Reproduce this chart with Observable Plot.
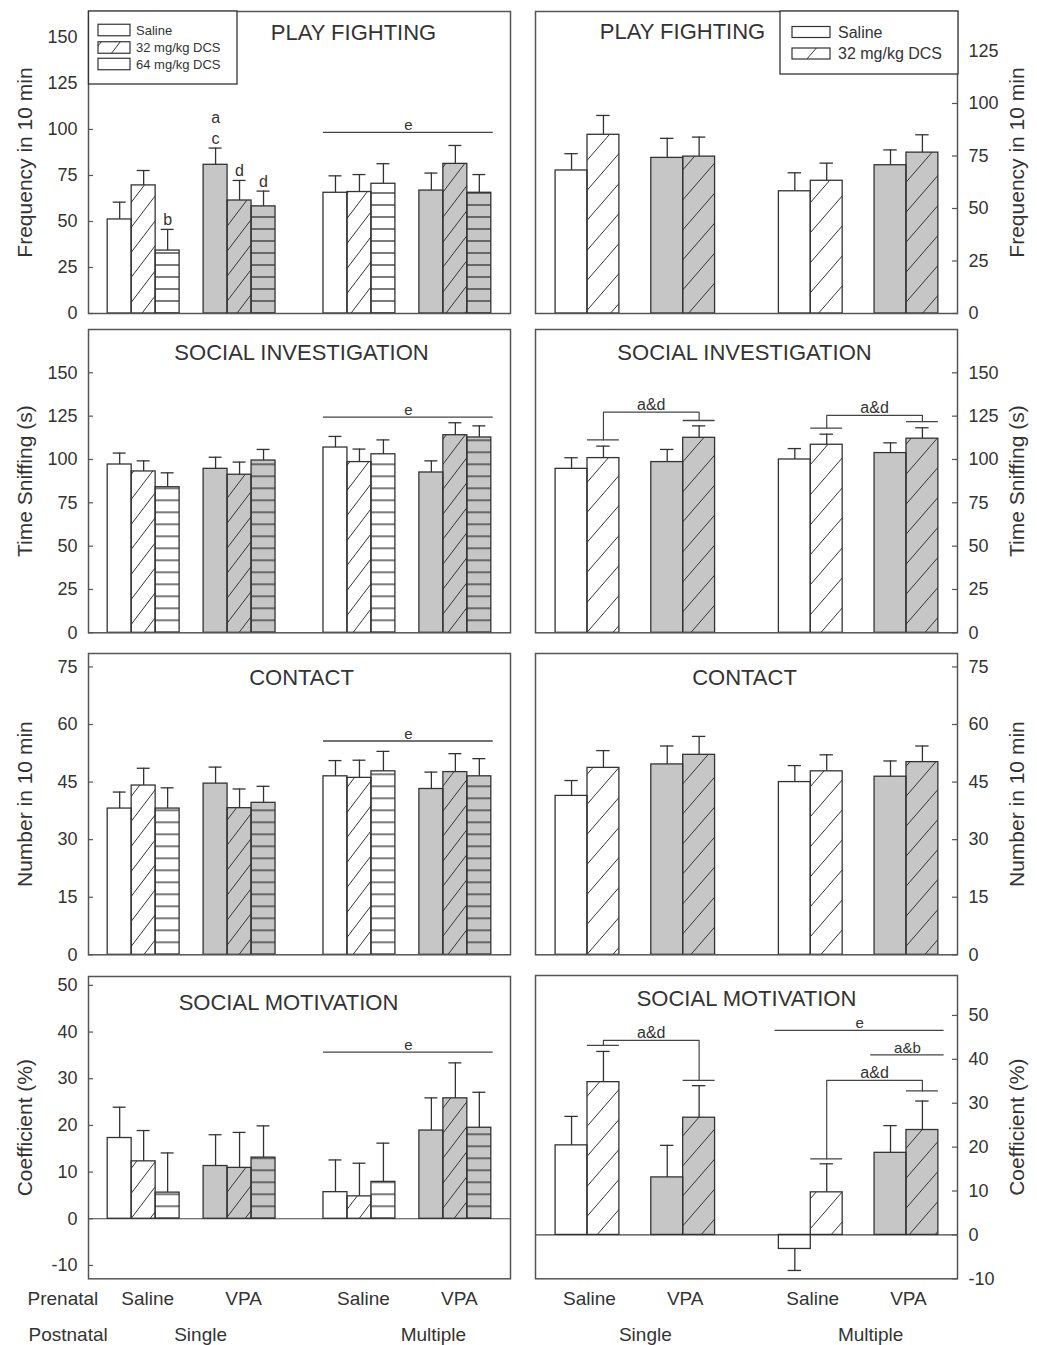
<!DOCTYPE html>
<html><head><meta charset="utf-8">
<script src="https://cdn.jsdelivr.net/npm/d3@7"></script>
<script src="https://cdn.jsdelivr.net/npm/@observablehq/plot@0.6"></script>
<style>
body{margin:0;background:#fff;}
#root{position:relative;width:1037px;height:1345px;overflow:hidden;font-family:"Liberation Sans",Arial,sans-serif;color:#333;}
#root > svg{position:absolute;}
</style></head><body><div id="root"></div>
<script>
// ================= DATA =================
const prenatal = ["Saline", "VPA", "Saline", "VPA"];
const postnatal = ["Single", "Single", "Multiple", "Multiple"];
const rowHeaders = ["Prenatal", "Postnatal"];
const treatmentsLeft = ["Saline", "32 mg/kg DCS", "64 mg/kg DCS"];
const treatmentsRight = ["Saline", "32 mg/kg DCS"];
const titles = ["PLAY FIGHTING", "SOCIAL INVESTIGATION", "CONTACT", "SOCIAL MOTIVATION"];
const yTitles = ["Frequency in 10 min", "Time Sniffing (s)", "Number in 10 min", "Coefficient (%)"];
const ticksLeft = [[0,25,50,75,100,125,150],[0,25,50,75,100,125,150],[0,15,30,45,60,75],[-10,0,10,20,30,40,50]];
const ticksRight = [[0,25,50,75,100,125],[0,25,50,75,100,125,150],[0,15,30,45,60,75],[-10,0,10,20,30,40,50]];

// means [group][treatment] and SEM
const playLeftMean = [[51.1,69.6,34.2],[80.8,61.4,58.2],[65.6,66.0,70.5],[66.8,81.3,65.6]];
const playLeftSem  = [[9.4,8.1,11.5],[9.1,10.9,8.3],[9.2,9.5,10.9],[9.5,10.0,9.9]];
const playRightMean = [[68.1,85.1],[74.1,74.7],[58.2,63.2],[70.6,76.6]];
const playRightSem  = [[8.0,9.2],[9.3,9.3],[8.8,8.4],[7.3,8.5]];

const siLeftMean = [[97.1,93.1,84.0],[94.6,91.2,99.4],[106.9,98.5,103.0],[92.5,114.0,112.7]];
const siLeftSem  = [[6.6,6.1,8.3],[6.7,7.3,6.4],[6.4,7.5,8.3],[6.7,7.2,6.7]];
const siRightMean = [[94.6,100.8],[98.5,112.5],[100.0,108.5],[103.7,112.0]];
const siRightSem  = [[6.4,6.9],[7.3,6.9],[6.3,6.1],[5.9,6.3]];

const contactLeftMean = [[38.1,44.1,38.1],[44.6,38.2,39.6],[46.5,46.1,47.8],[43.2,47.6,46.5]];
const contactLeftSem  = [[4.3,4.5,5.4],[4.3,5.0,4.3],[4.1,4.6,5.2],[4.4,4.8,4.6]];
const contactRightMean = [[41.4,48.7],[49.6,52.1],[45.0,47.8],[46.4,50.2]];
const contactRightSem  = [[4.0,4.5],[4.8,4.8],[4.3,4.3],[4.1,4.2]];

const smLeftMean = [[17.3,12.3,5.6],[11.3,10.9,13.1],[5.7,4.8,7.9],[18.9,25.8,19.5]];
const smLeftSem  = [[6.6,6.6,8.5],[6.7,7.6,6.8],[6.9,7.1,8.3],[7.0,7.6,7.6]];
const smRightMean = [[20.4,34.8],[13.1,26.7],[-3.2,9.7],[18.7,23.9]];
const smRightSem  = [[6.6,7.0],[7.3,7.3],[4.9,6.5],[6.2,6.6]];

// significance letters above bars: [group, treatment, text]
const playLeftLetters = [[0,2,"b"],[1,0,"a\nc"],[1,1,"d"],[1,2,"d"]];
// significance lines: [fromGroup, toGroup, y, text]
const playLeftLines = [[2,3,98.4,"e"]];
const siLeftLines = [[2,3,124.4,"e"]];
const contactLeftLines = [[2,3,55.7,"e"]];
const smLeftLines = [[2,3,35.7,"e"]];
const smRightLines = [[2,3,46.6,"e"],[3,3,41.0,"a&b"]];
// brackets: [group1, treat1, cap1, top, group2, treat2, cap2, text]
const siRightBrackets = [[0,1,111.3,127.3,1,1,122.5,"a&d"],[2,1,118.1,125.4,3,1,121.9,"a&d"]];
const smRightBrackets = [[0,1,43.2,44.3,1,1,35.2,"a&d"],[2,1,17.3,35.2,3,1,32.8,"a&d"]];

// ================= LAYOUT / STYLE =================
const GREY = "#c6c6c6", INK = "#333", FRAME = "#555";
const ROWS = {top: [0, 322, 644, 966], h: [322, 322, 322, 379]};
const COLS = [
  {svgLeft: 0, width: 518, marginLeft: 88, marginRight: 8, groupStart: [0,4,9,13], pad: [0.8, 0.8],
   frames: [[11,313],[329,632.3],[653,954.3],[976,1278.3]],
   yDomains: [[0,164.1],[0,175],[0,78.5],[-12.86,51.9]],
   titleDx: [54, 2, 2, -11], titleDy: [21, 23, 24, 26], cap: 0.27, hatch: "hatchL",
   lineExt: [0, 0.08], prenatalDx: 4, postnatalDx: [9, 26], titleAxisDx: -63, tickAnchor: "left"},
  {svgLeft: 518, width: 519, marginLeft: 17, marginRight: 80, groupStart: [0,3,7,10], pad: [0.63, 0.6],
   frames: [[11,313],[329,632.3],[653,954.3],[975,1278.3]],
   yDomains: [[0,143.8],[0,175],[0,78.5],[-10,59.1]],
   titleDx: [-64, -2, -2, 0], titleDy: [20, 23, 24, 23], cap: 0.21, hatch: "hatchR",
   lineExt: [0.12, 0.18], prenatalDx: 2, postnatalDx: [10, 12], titleAxisDx: 60, tickAnchor: "right"}
];

const root = document.getElementById("root");
const defsSvg = d3.select(root).append("svg").attr("width", 0).attr("height", 0).style("left", 0).style("top", 0);
const defs = defsSvg.append("defs");
function hatch(id, w, h) {
  const p = defs.append("pattern").attr("id", id).attr("patternUnits", "userSpaceOnUse").attr("width", w).attr("height", h);
  p.append("path").attr("d", `M0,${h} L${w},0 M${-w*0.15},${h*0.15} L${w*0.15},${-h*0.15} M${w*0.85},${h*1.15} L${w*1.15},${h*0.85}`)
    .attr("stroke", INK).attr("stroke-width", 1).attr("fill", "none");
}
hatch("hatchL", 19, 25);
hatch("hatchR", 26, 30);
function hlines(id, zeroY) {
  const p = defs.append("pattern").attr("id", id).attr("patternUnits", "userSpaceOnUse")
    .attr("width", 8).attr("height", 12).attr("patternTransform", `translate(0,${zeroY - 6})`);
  p.append("path").attr("d", "M-1,6 H9").attr("stroke", INK).attr("stroke-width", 1.3);
}

const panels = [
  [{mean: playLeftMean, sem: playLeftSem, letters: playLeftLetters, lines: playLeftLines, brackets: []},
   {mean: playRightMean, sem: playRightSem, letters: [], lines: [], brackets: []}],
  [{mean: siLeftMean, sem: siLeftSem, letters: [], lines: siLeftLines, brackets: []},
   {mean: siRightMean, sem: siRightSem, letters: [], lines: [], brackets: siRightBrackets}],
  [{mean: contactLeftMean, sem: contactLeftSem, letters: [], lines: contactLeftLines, brackets: []},
   {mean: contactRightMean, sem: contactRightSem, letters: [], lines: [], brackets: []}],
  [{mean: smLeftMean, sem: smLeftSem, letters: [], lines: smLeftLines, brackets: []},
   {mean: smRightMean, sem: smRightSem, letters: [], lines: smRightLines, brackets: smRightBrackets}]
];

function makePanel(row, col) {
  const L = COLS[col];
  const spec = panels[row][col];
  const treatments = col === 0 ? treatmentsLeft : treatmentsRight;
  const nT = treatments.length;
  const [fTop, fBot] = L.frames[row];
  const rowTop = ROWS.top[row], rowH = ROWS.h[row];
  const mt = fTop - rowTop, mb = rowTop + rowH - fBot;
  const frameW = L.width - L.marginLeft - L.marginRight;
  const yDom = L.yDomains[row];
  const zeroY = mt + (yDom[1] - 0) / (yDom[1] - yDom[0]) * (fBot - fTop);
  const hlId = `hl-${row}-${col}`;
  hlines(hlId, zeroY);
  const gs = L.groupStart;
  const xDom = [gs[0] - L.pad[0], gs[3] + nT + L.pad[1]];

  const bars = [];
  prenatal.forEach((p, gi) => treatments.forEach((t, ti) => {
    const m = spec.mean[gi][ti], s = spec.sem[gi][ti];
    const x1 = gs[gi] + ti;
    bars.push({gi, ti, treatment: t, mean: m, errEnd: m + Math.sign(m) * s,
      x1, x2: x1 + 1, xc: x1 + 0.5,
      base: p === "VPA" ? GREY : "white",
      pattern: ti === 1 ? `url(#${L.hatch})` : ti === 2 ? `url(#${hlId})` : null});
  }));
  const rect = {x1: "x1", x2: "x2", y1: 0, y2: "mean"};
  const marks = [
    Plot.rect(bars, {...rect, fill: "base"}),
    Plot.rect(bars.filter(d => d.pattern), {...rect, fill: "pattern"}),
    Plot.ruleX(bars, {x: "xc", y1: "mean", y2: "errEnd", stroke: INK, strokeWidth: 1.3}),
    Plot.ruleY(bars, {y: "errEnd", x1: d => d.xc - L.cap, x2: d => d.xc + L.cap, stroke: INK, strokeWidth: 1.3}),
  ];
  if (yDom[0] < 0) marks.push(Plot.ruleY([0], {stroke: "#444", strokeWidth: 1.2}));
  marks.push(Plot.rect(bars, {...rect, fill: "none", stroke: INK, strokeWidth: 1.3}));
  marks.push(Plot.frame({stroke: FRAME, strokeWidth: 1.5}));

  const ticks = (col === 0 ? ticksLeft : ticksRight)[row];
  marks.push(Plot.axisY(ticks, {anchor: L.tickAnchor, tickSize: 0, tickPadding: 11, label: null, fontSize: 18, fill: INK,
    tickFormat: d => String(d)}));
  marks.push(Plot.tickY(ticks, {y: d => d, stroke: FRAME, strokeWidth: 1.2,
    insetRight: col === 0 ? frameW - 5 : 0, insetLeft: col === 0 ? 0 : frameW - 5}));

  // titles
  marks.push(Plot.text([titles[row]], {text: d => d, frameAnchor: "top", dx: L.titleDx[row], dy: L.titleDy[row],
    lineAnchor: "middle", fontSize: 22, fill: INK}));
  marks.push(Plot.text([yTitles[row]], {text: d => d, frameAnchor: col === 0 ? "left" : "right",
    dx: L.titleAxisDx, rotate: -90, textAnchor: "middle", lineAnchor: "middle", fontSize: 21, fill: INK}));

  // letters
  if (spec.letters.length) {
    const lt = spec.letters.map(([g, t, s]) => ({x: gs[g] + t + 0.5, y: bars.find(b => b.gi === g && b.ti === t).errEnd, s}));
    marks.push(Plot.text(lt, {x: "x", y: "y", text: "s", lineAnchor: "bottom", dy: -4, fontSize: 16, lineHeight: 1.3, fill: INK}));
  }
  // significance lines
  if (spec.lines.length) {
    const ln = spec.lines.map(([g1, g2, y, s]) => ({x1: gs[g1] - L.lineExt[0], x2: gs[g2] + nT + L.lineExt[1], y, s}));
    marks.push(Plot.ruleY(ln, {y: "y", x1: "x1", x2: "x2", stroke: "#444", strokeWidth: 1.3}));
    marks.push(Plot.text(ln, {x: d => (d.x1 + d.x2) / 2, y: "y", text: "s", lineAnchor: "bottom", dy: -2, fontSize: 15, fill: INK}));
  }
  // brackets
  if (spec.brackets.length) {
    const pts = [], caps = [], labs = [];
    spec.brackets.forEach(([g1, t1, c1, top, g2, t2, c2, s], i) => {
      const xa = gs[g1] + t1 + 0.5, xb = gs[g2] + t2 + 0.5;
      pts.push({i, x: xa, y: c1}, {i, x: xa, y: top}, {i, x: xb, y: top}, {i, x: xb, y: c2});
      caps.push({y: c1, x1: xa - 0.5, x2: xa + 0.5}, {y: c2, x1: xb - 0.5, x2: xb + 0.5});
      labs.push({x: (xa + xb) / 2, y: top, s});
    });
    marks.push(Plot.line(pts, {x: "x", y: "y", z: "i", stroke: "#444", strokeWidth: 1.2}));
    marks.push(Plot.ruleY(caps, {y: "y", x1: "x1", x2: "x2", stroke: "#444", strokeWidth: 1.3}));
    marks.push(Plot.text(labs, {x: "x", y: "y", text: "s", lineAnchor: "bottom", dy: -2, fontSize: 16, fill: INK}));
  }
  // bottom category labels
  if (row === 3) {
    const pre = prenatal.map((p, gi) => ({x: gs[gi] + nT / 2, s: p}));
    marks.push(Plot.text(pre, {x: "x", text: "s", frameAnchor: "bottom", dy: 20, dx: L.prenatalDx, lineAnchor: "middle", fontSize: 19, fill: INK}));
    const uniq = [...new Set(postnatal)];
    const post = uniq.map((u, k) => {
      const idx = postnatal.map((v, i) => v === u ? i : -1).filter(i => i >= 0);
      return {x: d3.mean(idx, i => gs[i] + nT / 2), s: u, dx: L.postnatalDx[k]};
    });
    post.forEach(p => marks.push(Plot.text([p], {x: "x", text: "s", frameAnchor: "bottom", dy: 56, dx: p.dx, lineAnchor: "middle", fontSize: 19, fill: INK})));
    if (col === 0) {
      marks.push(Plot.text([rowHeaders[0]], {text: d => d, frameAnchor: "bottom-left", dx: -61, dy: 20, textAnchor: "start", lineAnchor: "middle", fontSize: 19, fill: INK}));
      marks.push(Plot.text([rowHeaders[1]], {text: d => d, frameAnchor: "bottom-left", dx: -60, dy: 56, textAnchor: "start", lineAnchor: "middle", fontSize: 19, fill: INK}));
    }
  }

  const svg = Plot.plot({
    width: L.width, height: rowH,
    marginLeft: L.marginLeft, marginRight: L.marginRight, marginTop: mt, marginBottom: mb,
    x: {domain: xDom, axis: null},
    y: {domain: yDom, axis: null},
    color: {type: "identity"},
    style: {fontFamily: '"Liberation Sans", Arial, sans-serif', fontSize: "18px", color: INK, background: "transparent", overflow: "visible"},
    marks
  });
  svg.style.position = "absolute";
  svg.style.left = L.svgLeft + "px";
  svg.style.top = rowTop + "px";
  root.appendChild(svg);
}

for (let r = 0; r < 4; r++) for (let c = 0; c < 2; c++) makePanel(r, c);

// ================= LEGENDS =================
const leg = d3.select(root).append("svg").attr("width", 1037).attr("height", 100).style("left", 0).style("top", 0)
  .style("font-family", '"Liberation Sans", Arial, sans-serif');
function legend(x, y, w, h, items, sw, swX, swH, centers, textX, fs, hatchId) {
  leg.append("rect").attr("x", x).attr("y", y).attr("width", w).attr("height", h)
    .attr("fill", "white").attr("stroke", INK).attr("stroke-width", 1.3);
  items.forEach((t, i) => {
    const cy = centers[i];
    leg.append("rect").attr("x", swX).attr("y", cy - swH / 2).attr("width", sw).attr("height", swH).attr("fill", "white");
    if (i === 1) leg.append("rect").attr("x", swX).attr("y", cy - swH / 2).attr("width", sw).attr("height", swH).attr("fill", `url(#${hatchId})`);
    leg.append("rect").attr("x", swX).attr("y", cy - swH / 2).attr("width", sw).attr("height", swH)
      .attr("fill", "none").attr("stroke", INK).attr("stroke-width", 1.2);
    leg.append("text").attr("x", textX).attr("y", cy).attr("dominant-baseline", "central")
      .attr("font-size", fs).attr("fill", INK).text(t);
  });
}
legend(88.5, 11, 148.5, 73, treatmentsLeft, 32, 98, 11.5, [30, 47.5, 64], 136, 13, "hatchL");
legend(780, 11, 178, 63, treatmentsRight, 38, 792, 11, [32, 53.5], 838, 16, "hatchR");
</script></body></html>
